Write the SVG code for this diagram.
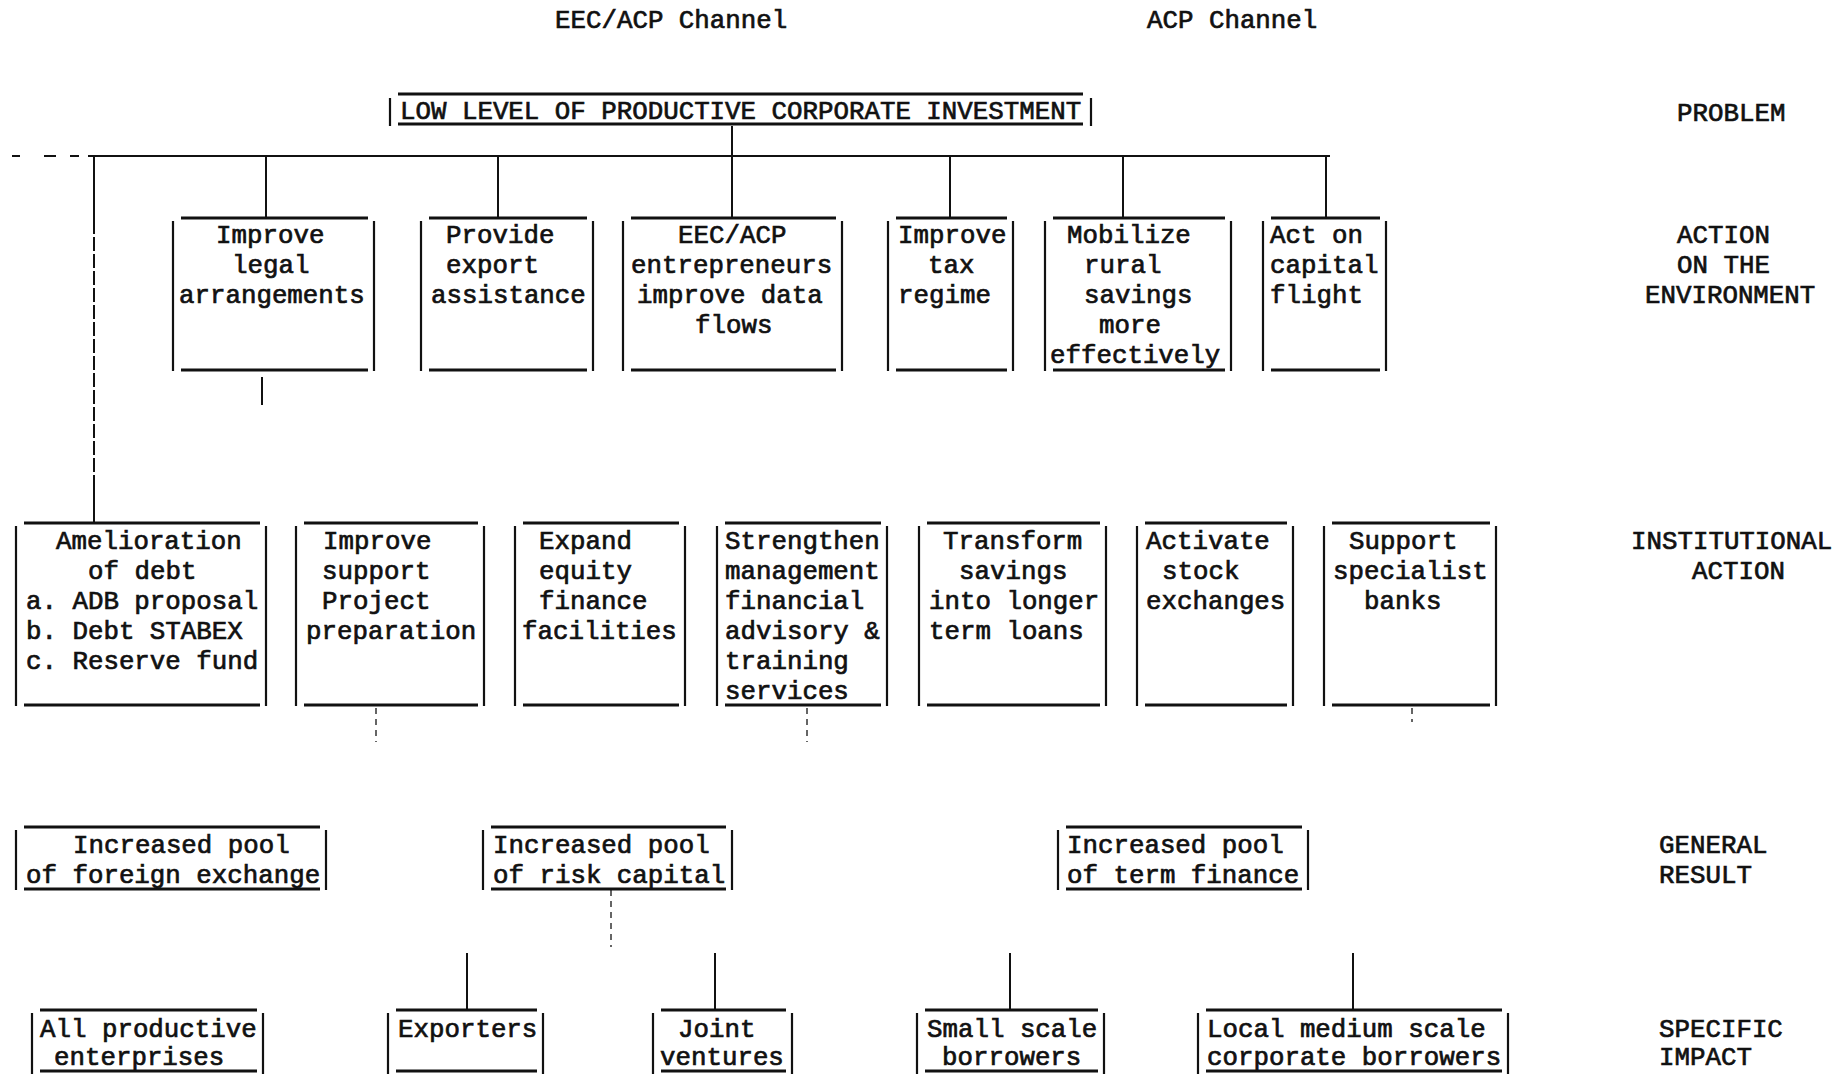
<svg xmlns="http://www.w3.org/2000/svg" width="1844" height="1074" viewBox="0 0 1844 1074">
<style>
text{font-family:"Liberation Mono","Courier New",monospace;font-size:25.8px;fill:#111;stroke:#111;stroke-width:0.7;font-weight:400}
.h{stroke:#111;stroke-width:3;fill:none}
.v{stroke:#111;stroke-width:2.2;fill:none}
.c{stroke:#111;stroke-width:2;fill:none}
.d{stroke:#333;stroke-width:1.5;stroke-dasharray:6 5;fill:none}
</style>
<rect width="1844" height="1074" fill="#fff"/>

<g id="labels">
<text x="555" y="28">EEC/ACP Channel</text>
<text x="1147" y="28">ACP Channel</text>
<text x="1677" y="121">PROBLEM</text>
<text x="1677" y="243">ACTION</text>
<text x="1677" y="273">ON THE</text>
<text x="1645" y="303">ENVIRONMENT</text>
<text x="1631" y="549">INSTITUTIONAL</text>
<text x="1692" y="579">ACTION</text>
<text x="1659" y="853">GENERAL</text>
<text x="1659" y="883">RESULT</text>
<text x="1659" y="1037">SPECIFIC</text>
<text x="1659" y="1065">IMPACT</text>
</g>

<g id="connectors">
<path class="c" d="M12 156 H20 M44 156 H56 M70 156 H79"/>
<path class="c" d="M88 156 H1330"/>
<path class="c" d="M732 126 V218"/>
<path class="c" d="M94 156 V220 M94 475 V523"/>
<path class="c" d="M94 220 V475" stroke-dasharray="14 3"/>
<path class="c" d="M266 156 V218 M498 156 V218 M950 156 V218 M1123 156 V218 M1326 156 V218"/>
<path class="c" d="M262 377 V405"/>
<path class="d" d="M376 708 V742 M807 708 V742 M1412 708 V722 M611 890 V947"/>
<path class="c" d="M467 953 V1010 M715 953 V1010 M1010 953 V1010 M1353 953 V1010"/>
</g>

<g id="n-problem">
<path class="h" d="M398 94 H1083 M398 124 H1083"/>
<path class="v" d="M390 98 V126 M1091 98 V126"/>
<text x="400" y="119">LOW LEVEL OF PRODUCTIVE CORPORATE INVESTMENT</text>
</g>

<g id="n-legal">
<path class="h" d="M181 218 H368 M181 370 H368"/>
<path class="v" d="M173 221 V371 M374 221 V371"/>
<text x="216" y="243">Improve</text>
<text x="232" y="273">legal</text>
<text x="179" y="303">arrangements</text>
</g>
<g id="n-export">
<path class="h" d="M429 218 H587 M429 370 H587"/>
<path class="v" d="M421 221 V371 M593 221 V371"/>
<text x="446" y="243">Provide</text>
<text x="446" y="273">export</text>
<text x="431" y="303">assistance</text>
</g>
<g id="n-data">
<path class="h" d="M631 218 H836 M631 370 H836"/>
<path class="v" d="M623 221 V371 M842 221 V371"/>
<text x="678" y="243">EEC/ACP</text>
<text x="631" y="273">entrepreneurs</text>
<text x="637" y="303">improve data</text>
<text x="695" y="333">flows</text>
</g>
<g id="n-tax">
<path class="h" d="M896 218 H1007 M896 370 H1007"/>
<path class="v" d="M888 221 V371 M1013 221 V371"/>
<text x="898" y="243">Improve</text>
<text x="928" y="273">tax</text>
<text x="898" y="303">regime</text>
</g>
<g id="n-rural">
<path class="h" d="M1053 218 H1225 M1053 370 H1225"/>
<path class="v" d="M1045 221 V371 M1231 221 V371"/>
<text x="1067" y="243">Mobilize</text>
<text x="1084" y="273">rural</text>
<text x="1084" y="303">savings</text>
<text x="1099" y="333">more</text>
<text x="1050" y="363">effectively</text>
</g>
<g id="n-flight">
<path class="h" d="M1271 218 H1380 M1271 370 H1380"/>
<path class="v" d="M1263 221 V371 M1386 221 V371"/>
<text x="1270" y="243">Act on</text>
<text x="1270" y="273">capital</text>
<text x="1270" y="303">flight</text>
</g>

<g id="n-debt">
<path class="h" d="M24 523 H260 M24 705 H260"/>
<path class="v" d="M16 526 V706 M266 526 V706"/>
<text x="56" y="549">Amelioration</text>
<text x="88" y="579">of debt</text>
<text x="26" y="609">a. ADB proposal</text>
<text x="26" y="639">b. Debt STABEX</text>
<text x="26" y="669">c. Reserve fund</text>
</g>
<g id="n-support">
<path class="h" d="M304 523 H478 M304 705 H478"/>
<path class="v" d="M296 526 V706 M484 526 V706"/>
<text x="323" y="549">Improve</text>
<text x="322" y="579">support</text>
<text x="322" y="609">Project</text>
<text x="306" y="639">preparation</text>
</g>
<g id="n-equity">
<path class="h" d="M523 523 H679 M523 705 H679"/>
<path class="v" d="M515 526 V706 M685 526 V706"/>
<text x="539" y="549">Expand</text>
<text x="539" y="579">equity</text>
<text x="539" y="609">finance</text>
<text x="522" y="639">facilities</text>
</g>
<g id="n-management">
<path class="h" d="M725 523 H881 M725 705 H881"/>
<path class="v" d="M717 526 V706 M887 526 V706"/>
<text x="725" y="549">Strengthen</text>
<text x="725" y="579">management</text>
<text x="725" y="609">financial</text>
<text x="725" y="639">advisory &amp;</text>
<text x="725" y="669">training</text>
<text x="725" y="699">services</text>
</g>
<g id="n-transform">
<path class="h" d="M927 523 H1100 M927 705 H1100"/>
<path class="v" d="M919 526 V706 M1106 526 V706"/>
<text x="943" y="549">Transform</text>
<text x="959" y="579">savings</text>
<text x="929" y="609">into longer</text>
<text x="929" y="639">term loans</text>
</g>
<g id="n-stock">
<path class="h" d="M1145 523 H1287 M1145 705 H1287"/>
<path class="v" d="M1137 526 V706 M1293 526 V706"/>
<text x="1146" y="549">Activate</text>
<text x="1162" y="579">stock</text>
<text x="1146" y="609">exchanges</text>
</g>
<g id="n-banks">
<path class="h" d="M1332 523 H1490 M1332 705 H1490"/>
<path class="v" d="M1324 526 V706 M1496 526 V706"/>
<text x="1349" y="549">Support</text>
<text x="1333" y="579">specialist</text>
<text x="1364" y="609">banks</text>
</g>

<g id="n-foreign">
<path class="h" d="M24 827 H320 M24 889 H320"/>
<path class="v" d="M16 830 V890 M326 830 V890"/>
<text x="73" y="853">Increased pool</text>
<text x="26" y="883">of foreign exchange</text>
</g>
<g id="n-risk">
<path class="h" d="M491 827 H726 M491 889 H726"/>
<path class="v" d="M483 830 V890 M732 830 V890"/>
<text x="493" y="853">Increased pool</text>
<text x="493" y="883">of risk capital</text>
</g>
<g id="n-term">
<path class="h" d="M1066 827 H1302 M1066 889 H1302"/>
<path class="v" d="M1058 830 V890 M1308 830 V890"/>
<text x="1067" y="853">Increased pool</text>
<text x="1067" y="883">of term finance</text>
</g>

<g id="n-productive">
<path class="h" d="M40 1010 H257 M40 1071 H257"/>
<path class="v" d="M32 1013 V1074 M263 1013 V1074"/>
<text x="40" y="1037">All productive</text>
<text x="54" y="1065">enterprises</text>
</g>
<g id="n-exporters">
<path class="h" d="M396 1010 H537 M396 1071 H537"/>
<path class="v" d="M388 1013 V1074 M543 1013 V1074"/>
<text x="398" y="1037">Exporters</text>
</g>
<g id="n-joint">
<path class="h" d="M661 1010 H786 M661 1071 H786"/>
<path class="v" d="M653 1013 V1074 M792 1013 V1074"/>
<text x="678" y="1037">Joint</text>
<text x="660" y="1065">ventures</text>
</g>
<g id="n-small">
<path class="h" d="M925 1010 H1098 M925 1071 H1098"/>
<path class="v" d="M917 1013 V1074 M1104 1013 V1074"/>
<text x="927" y="1037">Small scale</text>
<text x="942" y="1065">borrowers</text>
</g>
<g id="n-medium">
<path class="h" d="M1206 1010 H1502 M1206 1071 H1502"/>
<path class="v" d="M1198 1013 V1074 M1508 1013 V1074"/>
<text x="1207" y="1037">Local medium scale</text>
<text x="1207" y="1065">corporate borrowers</text>
</g>
</svg>
